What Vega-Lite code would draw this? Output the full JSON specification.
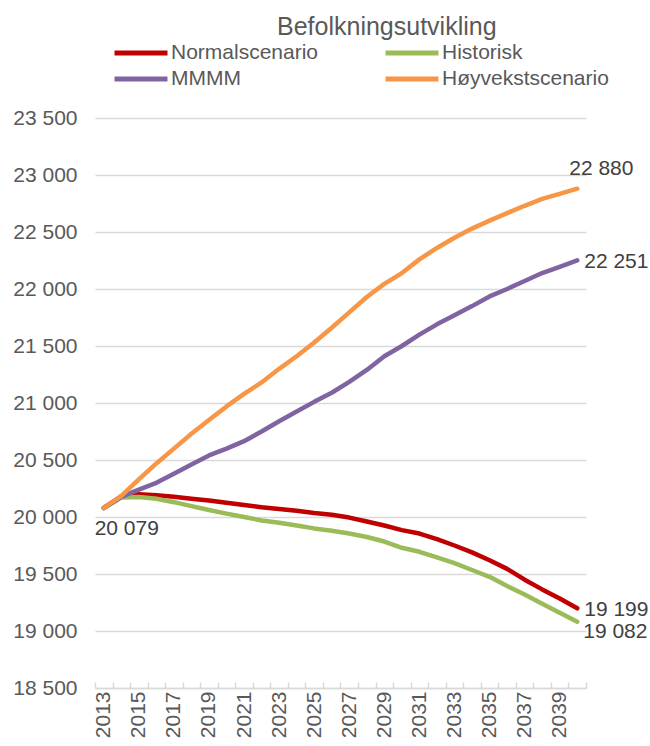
{
  "$schema": "https://vega.github.io/schema/vega-lite/v6.json",
  "autosize": "none",
  "width": 491,
  "height": 570,
  "padding": {"left": 95, "top": 118, "right": 64, "bottom": 58},
  "background": "white",
  "config": {
    "view": {"stroke": null},
    "font": "Liberation Sans",
    "locale": {"number": {"decimal": ",", "thousands": " ", "grouping": [3], "currency": ["", " kr"]}}
  },
  "title": {
    "text": "Befolkningsutvikling",
    "anchor": "start",
    "frame": "group",
    "dx": 182,
    "dy": 7,
    "fontSize": 25,
    "fontWeight": "normal",
    "color": "#595959",
    "font": "Liberation Sans"
  },
  "data": {
    "values": [
      {"year": "2013", "series": "Normalscenario", "value": 20079},
      {"year": "2014", "series": "Normalscenario", "value": 20182},
      {"year": "2015", "series": "Normalscenario", "value": 20199},
      {"year": "2016", "series": "Normalscenario", "value": 20190},
      {"year": "2017", "series": "Normalscenario", "value": 20178},
      {"year": "2018", "series": "Normalscenario", "value": 20160},
      {"year": "2019", "series": "Normalscenario", "value": 20145},
      {"year": "2020", "series": "Normalscenario", "value": 20125},
      {"year": "2021", "series": "Normalscenario", "value": 20105},
      {"year": "2022", "series": "Normalscenario", "value": 20085},
      {"year": "2023", "series": "Normalscenario", "value": 20070},
      {"year": "2024", "series": "Normalscenario", "value": 20055},
      {"year": "2025", "series": "Normalscenario", "value": 20035},
      {"year": "2026", "series": "Normalscenario", "value": 20020},
      {"year": "2027", "series": "Normalscenario", "value": 19995},
      {"year": "2028", "series": "Normalscenario", "value": 19960},
      {"year": "2029", "series": "Normalscenario", "value": 19925},
      {"year": "2030", "series": "Normalscenario", "value": 19885},
      {"year": "2031", "series": "Normalscenario", "value": 19855},
      {"year": "2032", "series": "Normalscenario", "value": 19805},
      {"year": "2033", "series": "Normalscenario", "value": 19750},
      {"year": "2034", "series": "Normalscenario", "value": 19690},
      {"year": "2035", "series": "Normalscenario", "value": 19620},
      {"year": "2036", "series": "Normalscenario", "value": 19545},
      {"year": "2037", "series": "Normalscenario", "value": 19450},
      {"year": "2038", "series": "Normalscenario", "value": 19365},
      {"year": "2039", "series": "Normalscenario", "value": 19285},
      {"year": "2040", "series": "Normalscenario", "value": 19199},
      {"year": "2013", "series": "Historisk", "value": 20079},
      {"year": "2014", "series": "Historisk", "value": 20170},
      {"year": "2015", "series": "Historisk", "value": 20175},
      {"year": "2016", "series": "Historisk", "value": 20160},
      {"year": "2017", "series": "Historisk", "value": 20130},
      {"year": "2018", "series": "Historisk", "value": 20095},
      {"year": "2019", "series": "Historisk", "value": 20062},
      {"year": "2020", "series": "Historisk", "value": 20030},
      {"year": "2021", "series": "Historisk", "value": 20000},
      {"year": "2022", "series": "Historisk", "value": 19970},
      {"year": "2023", "series": "Historisk", "value": 19950},
      {"year": "2024", "series": "Historisk", "value": 19925},
      {"year": "2025", "series": "Historisk", "value": 19900},
      {"year": "2026", "series": "Historisk", "value": 19880},
      {"year": "2027", "series": "Historisk", "value": 19855},
      {"year": "2028", "series": "Historisk", "value": 19825},
      {"year": "2029", "series": "Historisk", "value": 19785},
      {"year": "2030", "series": "Historisk", "value": 19730},
      {"year": "2031", "series": "Historisk", "value": 19695},
      {"year": "2032", "series": "Historisk", "value": 19645},
      {"year": "2033", "series": "Historisk", "value": 19595},
      {"year": "2034", "series": "Historisk", "value": 19535},
      {"year": "2035", "series": "Historisk", "value": 19475},
      {"year": "2036", "series": "Historisk", "value": 19395},
      {"year": "2037", "series": "Historisk", "value": 19320},
      {"year": "2038", "series": "Historisk", "value": 19240},
      {"year": "2039", "series": "Historisk", "value": 19160},
      {"year": "2040", "series": "Historisk", "value": 19082},
      {"year": "2013", "series": "MMMM", "value": 20079},
      {"year": "2014", "series": "MMMM", "value": 20176},
      {"year": "2015", "series": "MMMM", "value": 20240},
      {"year": "2016", "series": "MMMM", "value": 20300},
      {"year": "2017", "series": "MMMM", "value": 20380},
      {"year": "2018", "series": "MMMM", "value": 20460},
      {"year": "2019", "series": "MMMM", "value": 20540},
      {"year": "2020", "series": "MMMM", "value": 20600},
      {"year": "2021", "series": "MMMM", "value": 20665},
      {"year": "2022", "series": "MMMM", "value": 20750},
      {"year": "2023", "series": "MMMM", "value": 20840},
      {"year": "2024", "series": "MMMM", "value": 20925},
      {"year": "2025", "series": "MMMM", "value": 21010},
      {"year": "2026", "series": "MMMM", "value": 21090},
      {"year": "2027", "series": "MMMM", "value": 21185},
      {"year": "2028", "series": "MMMM", "value": 21290},
      {"year": "2029", "series": "MMMM", "value": 21410},
      {"year": "2030", "series": "MMMM", "value": 21500},
      {"year": "2031", "series": "MMMM", "value": 21600},
      {"year": "2032", "series": "MMMM", "value": 21690},
      {"year": "2033", "series": "MMMM", "value": 21770},
      {"year": "2034", "series": "MMMM", "value": 21850},
      {"year": "2035", "series": "MMMM", "value": 21935},
      {"year": "2036", "series": "MMMM", "value": 22000},
      {"year": "2037", "series": "MMMM", "value": 22070},
      {"year": "2038", "series": "MMMM", "value": 22140},
      {"year": "2039", "series": "MMMM", "value": 22195},
      {"year": "2040", "series": "MMMM", "value": 22251},
      {"year": "2013", "series": "Høyvekstscenario", "value": 20079},
      {"year": "2014", "series": "Høyvekstscenario", "value": 20185},
      {"year": "2015", "series": "Høyvekstscenario", "value": 20330},
      {"year": "2016", "series": "Høyvekstscenario", "value": 20470},
      {"year": "2017", "series": "Høyvekstscenario", "value": 20600},
      {"year": "2018", "series": "Høyvekstscenario", "value": 20730},
      {"year": "2019", "series": "Høyvekstscenario", "value": 20850},
      {"year": "2020", "series": "Høyvekstscenario", "value": 20970},
      {"year": "2021", "series": "Høyvekstscenario", "value": 21080},
      {"year": "2022", "series": "Høyvekstscenario", "value": 21180},
      {"year": "2023", "series": "Høyvekstscenario", "value": 21300},
      {"year": "2024", "series": "Høyvekstscenario", "value": 21410},
      {"year": "2025", "series": "Høyvekstscenario", "value": 21530},
      {"year": "2026", "series": "Høyvekstscenario", "value": 21660},
      {"year": "2027", "series": "Høyvekstscenario", "value": 21795},
      {"year": "2028", "series": "Høyvekstscenario", "value": 21930},
      {"year": "2029", "series": "Høyvekstscenario", "value": 22045},
      {"year": "2030", "series": "Høyvekstscenario", "value": 22140},
      {"year": "2031", "series": "Høyvekstscenario", "value": 22260},
      {"year": "2032", "series": "Høyvekstscenario", "value": 22360},
      {"year": "2033", "series": "Høyvekstscenario", "value": 22450},
      {"year": "2034", "series": "Høyvekstscenario", "value": 22530},
      {"year": "2035", "series": "Høyvekstscenario", "value": 22600},
      {"year": "2036", "series": "Høyvekstscenario", "value": 22665},
      {"year": "2037", "series": "Høyvekstscenario", "value": 22730},
      {"year": "2038", "series": "Høyvekstscenario", "value": 22790},
      {"year": "2039", "series": "Høyvekstscenario", "value": 22835},
      {"year": "2040", "series": "Høyvekstscenario", "value": 22880}
    ]
  },
  "encoding": {
    "x": {
      "field": "year",
      "type": "ordinal",
      "scale": {"type": "band", "paddingInner": 0, "paddingOuter": 0},
      "axis": {
        "title": null,
        "labelAngle": -90,
        "labelAlign": "right",
        "labelBaseline": "middle",
        "labelExpr": "toNumber(datum.value) % 2 == 1 ? datum.label : ''",
        "labelOverlap": false,
        "labelFontSize": 21,
        "labelColor": "#595959",
        "labelFont": "Liberation Sans",
        "labelPadding": 9,
        "tickBand": "extent",
        "tickSize": -6,
        "tickColor": "#D9D9D9",
        "tickWidth": 1.5,
        "domainColor": "#D9D9D9",
        "domainWidth": 1.5,
        "grid": false
      }
    },
    "y": {
      "field": "value",
      "type": "quantitative",
      "scale": {"domain": [18500, 23500], "zero": false, "nice": false},
      "axis": {
        "title": null,
        "values": [18500, 19000, 19500, 20000, 20500, 21000, 21500, 22000, 22500, 23000, 23500],
        "labelExpr": "format(datum.value, ',')",
        "domain": false,
        "ticks": false,
        "grid": true,
        "gridColor": "#D9D9D9",
        "gridWidth": 1.5,
        "labelFontSize": 21,
        "labelColor": "#595959",
        "labelFont": "Liberation Sans",
        "labelPadding": 18
      }
    }
  },
  "layer": [
    {
      "mark": {"type": "line", "strokeWidth": 4.5, "strokeCap": "round", "strokeJoin": "round"},
      "encoding": {
        "color": {
          "field": "series",
          "type": "nominal",
          "scale": {
            "domain": ["Normalscenario", "Historisk", "MMMM", "Høyvekstscenario"],
            "range": ["#C00000", "#9BBB59", "#8064A2", "#F79646"]
          },
          "legend": {
            "title": null,
            "orient": "none",
            "legendX": 30,
            "legendY": -81,
            "direction": "horizontal",
            "columns": 2,
            "columnPadding": 56,
            "rowPadding": 0,
            "symbolType": "M-2,0H2",
            "symbolSize": 702,
            "symbolStrokeWidth": 5,
            "symbolStrokeCap": "round",
            "labelOffset": 14,
            "labelFontSize": 21,
            "labelColor": "#595959",
            "labelFont": "Liberation Sans",
            "labelLimit": 400
          }
        }
      }
    },
    {
      "transform": [{"filter": "datum.year == '2013' && datum.series == 'Normalscenario'"}],
      "mark": {"type": "text", "align": "center", "baseline": "middle", "dx": 23, "dy": 21, "fontSize": 21, "color": "#404040", "font": "Liberation Sans"},
      "encoding": {"text": {"field": "value", "type": "quantitative", "format": ","}}
    },
    {
      "transform": [{"filter": "datum.year == '2040' && datum.series == 'Høyvekstscenario'"}],
      "mark": {"type": "text", "align": "left", "baseline": "middle", "dx": -8, "dy": -20, "fontSize": 21, "color": "#404040", "font": "Liberation Sans"},
      "encoding": {"text": {"field": "value", "type": "quantitative", "format": ","}}
    },
    {
      "transform": [{"filter": "datum.year == '2040' && (datum.series == 'MMMM' || datum.series == 'Normalscenario')"}],
      "mark": {"type": "text", "align": "left", "baseline": "middle", "dx": 7, "dy": 2, "fontSize": 21, "color": "#404040", "font": "Liberation Sans"},
      "encoding": {"text": {"field": "value", "type": "quantitative", "format": ","}}
    },
    {
      "transform": [{"filter": "datum.year == '2040' && datum.series == 'Historisk'"}],
      "mark": {"type": "text", "align": "left", "baseline": "middle", "dx": 6, "dy": 10, "fontSize": 21, "color": "#404040", "font": "Liberation Sans"},
      "encoding": {"text": {"field": "value", "type": "quantitative", "format": ","}}
    }
  ]
}
